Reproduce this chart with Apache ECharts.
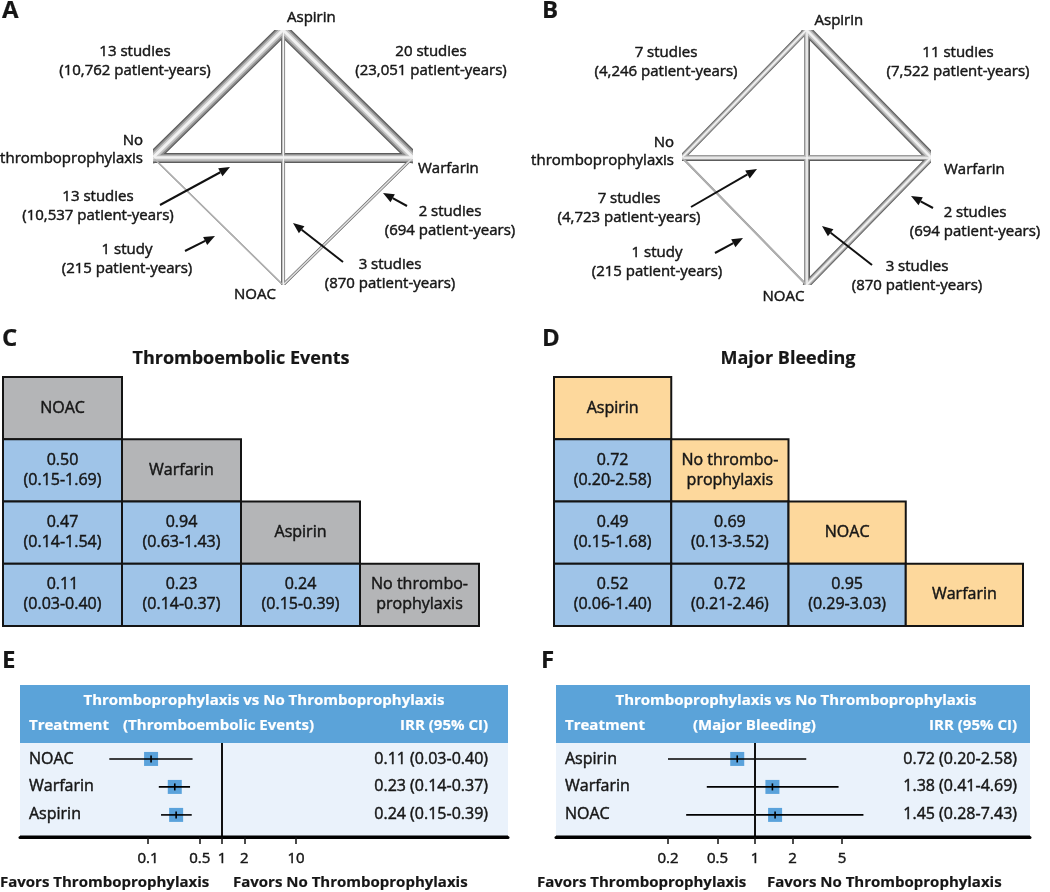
<!DOCTYPE html>
<html>
<head>
<meta charset="utf-8">
<script src="https://cdn.jsdelivr.net/npm/echarts@6/dist/echarts.min.js"></script>
<style>
  html, body { margin: 0; padding: 0; background: #ffffff; }
  #chart { width: 1050px; height: 892px; }
</style>
</head>
<body>
<div id="chart"></div>
<script>
// ---------------- DATA ----------------
// Network nodes (structural diamond positions)
const nodeNames = ['Aspirin', 'No\nthromboprophylaxis', 'Warfarin', 'NOAC'];
const nodeXY = [[0, 1], [-1, 0], [1, 0], [0, -1]];
// Edges: pairs of node indices
const edgePairs = [[0, 1], [0, 2], [1, 2], [1, 3], [2, 3], [0, 3]];
const studiesA = [13, 20, 13, 1, 2, 3];
const patientYearsA = [10762, 23051, 10537, 215, 694, 870];
const studiesB = [7, 11, 7, 1, 2, 3];
const patientYearsB = [4246, 7522, 4723, 215, 694, 870];

// League tables
const teNames = ['NOAC', 'Warfarin', 'Aspirin', 'No thrombo-\nprophylaxis'];
const teEst = [[0.50], [0.47, 0.94], [0.11, 0.23, 0.24]];
const teLo = [[0.15], [0.14, 0.63], [0.03, 0.14, 0.15]];
const teHi = [[1.69], [1.54, 1.43], [0.40, 0.37, 0.39]];
const mbNames = ['Aspirin', 'No thrombo-\nprophylaxis', 'NOAC', 'Warfarin'];
const mbEst = [[0.72], [0.49, 0.69], [0.52, 0.72, 0.95]];
const mbLo = [[0.20], [0.15, 0.13], [0.06, 0.21, 0.29]];
const mbHi = [[2.58], [1.68, 3.52], [1.40, 2.46, 3.03]];

// Forest plots
const fpTeTreat = ['NOAC', 'Warfarin', 'Aspirin'];
const fpTeEst = [0.11, 0.23, 0.24];
const fpTeLo = [0.03, 0.14, 0.15];
const fpTeHi = [0.40, 0.37, 0.39];
const fpTeTicks = [0.1, 0.5, 1, 2, 10];
const fpMbTreat = ['Aspirin', 'Warfarin', 'NOAC'];
const fpMbEst = [0.72, 1.38, 1.45];
const fpMbLo = [0.20, 0.41, 0.28];
const fpMbHi = [2.58, 4.69, 7.43];
const fpMbTicks = [0.2, 0.5, 1, 2, 5];

// ---------------- STYLE / LAYOUT ----------------
const FONT = '"Open Sans", "Noto Sans", sans-serif';
const INK = '#161616';
const W = 500;       // regular text weight
const THICK = 0.45;  // slight outline to match the heavier reference type
const edgeWidthA = [12, 12, 10, 1.5, 3, 4];
const edgeWidthB = [6, 10, 6, 2, 7, 6];
const tubeLayers = [[1.0, '#5c5c5c'], [0.8, '#8f8f8f'], [0.55, '#c4c4c4'], [0.25, '#f2f2f2']];

const nodeLabelA = [[4, -12, 'left'], [-10, -8, 'right'], [5, 11, 'left'], [-28, 10, 'center']];
const nodeLabelB = [[8, -9, 'left'], [-8, -6, 'right'], [13, 12, 'left'], [-23, 12, 'center']];
// edge annotation: [centerX, firstLineY, arrow x1,y1,x2,y2 or null]
const edgeNoteA = [[135, 52, null], [431, 52, null], [98, 197, [160, 205, 230, 167]],
  [127, 250, [185, 251, 215, 236]], [450, 212, [407, 206, 383, 193]], [390, 265, [343, 262, 293, 223]]];
const edgeNoteB = [[666, 53, null], [958, 53, null], [629, 199, [691, 207, 757, 169]],
  [657, 253, [715, 253, 743, 238]], [975, 213, [933, 208, 911, 196]], [917, 267, [872, 265, 822, 226]]];

// ---------------- BUILD ----------------
const chart = echarts.init(document.getElementById('chart'), null, { renderer: 'canvas' });

const grids = [];
const xAxes = [];
const yAxes = [];
const series = [];
const graphics = [];

function txt(text, x, y, opts) {
  opts = opts || {};
  const fill = opts.fill || INK;
  graphics.push({
    type: 'text', x: 0, y: 0, z: opts.z || 5,
    style: {
      text: text, x: x, y: y,
      fill: fill,
      stroke: fill, lineWidth: opts.weight === 'bold' ? 0.2 : THICK,
      font: (opts.weight || W) + ' ' + (opts.size || 15) + 'px ' + FONT,
      align: opts.align || 'left',
      verticalAlign: opts.va || 'middle',
      lineHeight: opts.lh || 19
    }
  });
}
function arrow(a) {
  const [x1, y1, x2, y2] = a;
  const ang = Math.atan2(y2 - y1, x2 - x1), L = 11, Wd = 4.5;
  const bx = x2 - L * Math.cos(ang), by = y2 - L * Math.sin(ang);
  graphics.push({ type: 'line', shape: { x1, y1, x2: bx, y2: by }, style: { stroke: '#111', lineWidth: 2 }, z: 5 });
  graphics.push({
    type: 'polygon', z: 5,
    shape: { points: [[x2, y2], [bx + Wd * Math.sin(ang), by - Wd * Math.cos(ang)], [bx - Wd * Math.sin(ang), by + Wd * Math.cos(ang)]] },
    style: { fill: '#111' }
  });
}
const studyText = n => n + (n === 1 ? ' study' : ' studies');
const pyText = p => '(' + p.toLocaleString('en-US') + ' patient-years)';

function addNetwork(gridBox, studies, py, widths, nodeLab, notes) {
  const gi = grids.length;
  grids.push(Object.assign({ outerBoundsMode: 'none', containLabel: false }, gridBox));
  xAxes.push({ gridIndex: gi, type: 'value', min: -1, max: 1, show: false });
  yAxes.push({ gridIndex: gi, type: 'value', min: -1, max: 1, show: false });
  tubeLayers.forEach(([f, col]) => {
    series.push({
      type: 'lines', coordinateSystem: 'cartesian2d', xAxisIndex: gi, yAxisIndex: gi,
      silent: true, z: 2,
      data: edgePairs.map((pr, k) => ({
        coords: [nodeXY[pr[0]], nodeXY[pr[1]]],
        lineStyle: { width: Math.max(0.6, widths[k] * f), color: widths[k] < 2.5 && f < 1 ? '#b0b0b0' : (widths[k] < 2.5 ? '#909090' : col), cap: 'round', join: 'round', opacity: 1, curveness: 0 }
      }))
    });
  });
  series.push({
    type: 'scatter', xAxisIndex: gi, yAxisIndex: gi, symbolSize: 0, silent: true,
    itemStyle: { color: INK, opacity: 1 },
    data: nodeXY.map((p, k) => ({
      value: p, name: nodeNames[k],
      label: {
        show: true, formatter: '{b}', position: [nodeLab[k][0], nodeLab[k][1]],
        align: nodeLab[k][2], verticalAlign: 'middle',
        fontSize: 15, fontWeight: W, fontFamily: FONT, color: INK, lineHeight: 18, opacity: 1,
        textBorderColor: INK, textBorderWidth: THICK
      }
    }))
  });
  notes.forEach((n, k) => {
    txt(studyText(studies[k]) + '\n' + pyText(py[k]), n[0], n[1] - 9.5, { align: 'center', va: 'top', lh: 19 });
    if (n[2]) arrow(n[2]);
  });
}

function addLeague(gridBox, names, est, lo, hi, diagColor) {
  const gi = grids.length;
  grids.push(Object.assign({ outerBoundsMode: 'none', containLabel: false }, gridBox));
  xAxes.push({ gridIndex: gi, type: 'category', data: names.map((_, i) => 'c' + i), show: false });
  yAxes.push({ gridIndex: gi, type: 'category', data: names.map((_, i) => 'r' + i), inverse: true, show: false });
  const cells = [];
  names.forEach((n, i) => {
    for (let j = 0; j < i; j++) {
      cells.push({ c: j, r: i, diag: false,
        text: est[i - 1][j].toFixed(2) + '\n(' + lo[i - 1][j].toFixed(2) + '-' + hi[i - 1][j].toFixed(2) + ')' });
    }
    cells.push({ c: i, r: i, diag: true, text: n });
  });
  series.push({
    type: 'custom', xAxisIndex: gi, yAxisIndex: gi, silent: true,
    data: cells.map(c => [c.c, c.r]),
    renderItem: function (params, api) {
      const cell = cells[params.dataIndex];
      const p = api.coord([api.value(0), api.value(1)]);
      const s = api.size([1, 1]);
      return {
        type: 'group',
        children: [
          { type: 'rect', shape: { x: p[0] - s[0] / 2, y: p[1] - s[1] / 2, width: s[0], height: s[1] },
            style: { fill: cell.diag ? diagColor : '#9fc4e8', stroke: '#141414', lineWidth: 2 } },
          { type: 'text', style: { text: cell.text, x: p[0], y: p[1], align: 'center', verticalAlign: 'middle',
            font: W + ' 16px ' + FONT, fill: INK, stroke: INK, lineWidth: THICK, lineHeight: 20 } }
        ]
      };
    }
  });
}

function addForest(box, treat, est, lo, hi, ticks, head) {
  const gi = grids.length;
  const bodyTop = 743, bodyH = 94;
  grids.push({ outerBoundsMode: 'none', containLabel: false, left: box.left, width: box.width, top: bodyTop, height: bodyH });
  // log axis: reference position of 1 and px per decade set the range
  const minLog = (box.left - box.one) / box.decade;
  const maxLog = (box.left + box.width - box.one) / box.decade;
  xAxes.push({
    gridIndex: gi, type: 'log', logBase: 10, min: Math.pow(10, minLog), max: Math.pow(10, maxLog),
    position: 'bottom', z: 20,
    axisLine: { show: true, onZero: false, lineStyle: { color: '#000', width: 3 } },
    axisTick: { show: true, customValues: ticks, length: 7, lineStyle: { color: '#111', width: 1.5 } },
    axisLabel: { show: true, customValues: ticks, margin: 14, fontSize: 15, fontWeight: W, fontFamily: FONT, color: INK,
      textBorderColor: INK, textBorderWidth: THICK,
      formatter: v => String(+v.toPrecision(3)) },
    splitLine: { show: false }, minorTick: { show: false }
  });
  yAxes.push({ gridIndex: gi, type: 'value', min: -0.57, max: 2.79, inverse: true, show: false });
  // backgrounds and frame baseline
  graphics.push({ type: 'rect', z: -10, shape: { x: box.left, y: 685, width: box.width, height: 58 }, style: { fill: '#5ba3d9' } });
  graphics.push({ type: 'rect', z: -10, shape: { x: box.left, y: bodyTop, width: box.width, height: bodyH - 1 }, style: { fill: '#eaf2fb' } });
  graphics.push({ type: 'rect', z: 10, shape: { x: box.left, y: bodyTop + bodyH - 1.5, width: box.width, height: 3 }, style: { fill: '#000000' } });
  txt('Thromboprophylaxis vs No Thromboprophylaxis', head.c1, 701, { align: 'center', weight: 'bold', fill: '#ffffff', size: 15 });
  txt('Treatment', box.left + 9, 726, { weight: 'bold', fill: '#ffffff', size: 15 });
  txt(head.mid, head.midX, 726, { weight: 'bold', fill: '#ffffff', size: 15 });
  txt('IRR (95% CI)', box.valRight, 726, { align: 'right', weight: 'bold', fill: '#ffffff', size: 15 });
  txt('Favors Thromboprophylaxis', head.fav1, 883, { weight: 'bold', size: 15 });
  txt('Favors No Thromboprophylaxis', head.fav2, 883, { weight: 'bold', size: 15 });

  series.push({
    type: 'custom', xAxisIndex: gi, yAxisIndex: gi, silent: true, z: 3, clip: false,
    encode: { x: 0, y: 1 },
    data: est.map((e, i) => [e, i, lo[i], hi[i]]),
    renderItem: function (params, api) {
      const i = params.dataIndex;
      const row = api.value(1);
      const pe = api.coord([api.value(0), row]);
      const pl = api.coord([api.value(2), row]);
      const ph = api.coord([api.value(3), row]);
      const cs = params.coordSys;
      const sq = 14;
      return {
        type: 'group',
        children: [
          { type: 'rect', shape: { x: pe[0] - sq / 2, y: pe[1] - sq / 2, width: sq, height: sq }, style: { fill: '#5aa2db' } },
          { type: 'line', shape: { x1: pl[0], y1: pe[1], x2: ph[0], y2: pe[1] }, style: { stroke: '#000', lineWidth: 1.6 } },
          { type: 'line', shape: { x1: pe[0], y1: pe[1] - 3.5, x2: pe[0], y2: pe[1] + 3.5 }, style: { stroke: '#000', lineWidth: 1.6 } },
          { type: 'text', style: { text: treat[i], x: cs.x + 9, y: pe[1], align: 'left', verticalAlign: 'middle',
            font: W + ' 16px ' + FONT, fill: INK, stroke: INK, lineWidth: THICK } },
          { type: 'text', style: { text: est[i].toFixed(2) + ' (' + lo[i].toFixed(2) + '-' + hi[i].toFixed(2) + ')',
            x: box.valRight, y: pe[1], align: 'right', verticalAlign: 'middle', font: W + ' 16px ' + FONT,
            fill: INK, stroke: INK, lineWidth: THICK } }
        ]
      };
    },
    markLine: {
      silent: true, symbol: 'none', animation: false,
      label: { show: false },
      lineStyle: { color: '#111', width: 2, type: 'solid' },
      data: [{ xAxis: 1 }]
    }
  });
}

// Panel A / B networks
addNetwork({ left: 153, top: 30, width: 260, height: 255 }, studiesA, patientYearsA, edgeWidthA, nodeLabelA, edgeNoteA);
addNetwork({ left: 682, top: 30, width: 249, height: 255 }, studiesB, patientYearsB, edgeWidthB, nodeLabelB, edgeNoteB);
// Panel C / D league tables
addLeague({ left: 3, top: 377, width: 476, height: 249 }, teNames, teEst, teLo, teHi, '#b4b5b7');
addLeague({ left: 554, top: 377, width: 469, height: 249 }, mbNames, mbEst, mbLo, mbHi, '#fdd89c');
txt('Thromboembolic Events', 241, 359, { align: 'center', weight: 'bold', size: 18 });
txt('Major Bleeding', 788, 359, { align: 'center', weight: 'bold', size: 18 });
// Panel E / F forest plots
addForest({ left: 20, width: 488, one: 222, decade: 74, valRight: 488 }, fpTeTreat, fpTeEst, fpTeLo, fpTeHi, fpTeTicks,
  { c1: 264, mid: '(Thromboembolic Events)', midX: 123, fav1: 0, fav2: 233 });
addForest({ left: 556, width: 474, one: 755, decade: 124.5, valRight: 1017 }, fpMbTreat, fpMbEst, fpMbLo, fpMbHi, fpMbTicks,
  { c1: 796, mid: '(Major Bleeding)', midX: 693, fav1: 537, fav2: 767 });

// Panel letters
[['A', 2, 11], ['B', 542, 11], ['C', 2, 339], ['D', 542, 339], ['E', 2, 661], ['F', 541, 661]].forEach(l => {
  txt(l[0], l[1], l[2], { weight: 'bold', size: 24 });
});

chart.setOption({
  animation: false,
  backgroundColor: '#ffffff',
  textStyle: { fontFamily: FONT },
  grid: grids,
  xAxis: xAxes,
  yAxis: yAxes,
  series: series,
  graphic: { elements: graphics }
});
</script>
</body>
</html>
